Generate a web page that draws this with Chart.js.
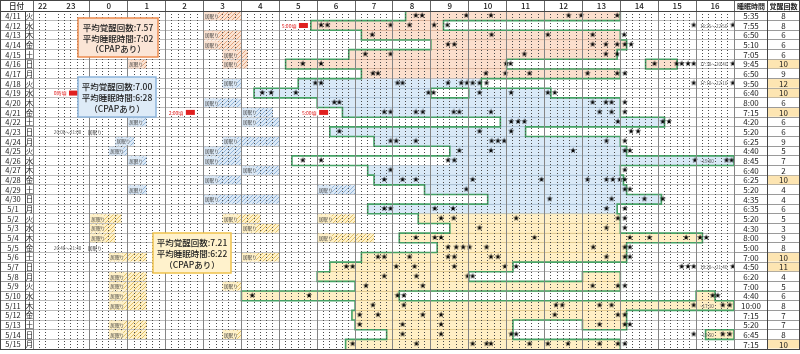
<!DOCTYPE html>
<html>
<head>
<meta charset="utf-8">
<script src="https://cdn.jsdelivr.net/npm/chart.js@4.4.0/dist/chart.umd.min.js"></script>
<style>
  html, body { margin: 0; padding: 0; background: #fff; }
</style>
</head>
<body>
<canvas id="sleepChart" width="800" height="354"></canvas>
<script>
// rows
const dates = ['4/11','4/12','4/13','4/14','4/15','4/16','4/17','4/18','4/19','4/20','4/21','4/22','4/23','4/24','4/25','4/26','4/27','4/28','4/29','4/30',
  '5/1','5/2','5/3','5/4','5/5','5/6','5/7','5/8','5/9','5/10','5/11','5/12','5/13','5/14','5/15'];
const weekdays = ['火','水','木','金','土','日','月','火','水','木','金','土','日','月','火','水','木','金','土','日',
  '月','火','水','木','金','土','日','月','火','水','木','金','土','日','月'];
const hourLabels = [22, 23, 0, 1, 2, 3, 4, 5, 6, 7, 8, 9, 10, 11, 12, 13, 14, 15, 16];
const sleepTimes = ['5:35','7:55','6:50','5:10','7:05','9:45','6:50','9:50','6:40','8:00','7:15','4:20','5:20','6:25','4:40','8:45','6:40','6:25','5:20','4:35',
  '6:35','5:20','4:30','8:00','5:00','7:00','4:50','6:20','7:00','4:40','10:00','7:15','5:20','6:45','7:15'];
const wakeCounts = [8,8,6,6,6,10,9,12,10,6,10,6,6,9,5,7,2,10,4,4,6,5,3,9,8,10,11,4,5,6,8,7,7,8,10];
const periodFirstRow = [0, 7, 21];   // 4/11, 4/18, 5/2
const avgWake = ['7.57', '7.00', '7.21'];
const avgSleep = ['7:02', '6:28', '6:22'];

// minutes from 0:00 (negative = previous evening)
const sleepSegs = [
  ['4/11',500,840],['4/12',350,560],['4/13',430,840],['4/14',540,850],['4/15',410,835],
  ['4/16',310,660],['4/16',880,930],['4/17',430,840],['4/18',330,620],['4/19',260,540],['4/19',600,730],
  ['4/20',360,840],['4/21',400,840],['4/22',650,910],['4/23',380,690],['4/24',450,840],['4/25',570,850],
  ['4/26',570,1020],['4/27',440,840],['4/28',450,845],['4/29',530,850],['4/30',630,905],['5/1',440,835],
  ['5/2',520,840],['5/3',570,840],['5/4',490,970],['5/5',550,850],['5/6',430,850],['5/7',380,670],
  ['5/8',360,600],['5/8',780,840],['5/9',420,840],['5/10',240,490],['5/10',960,990],['5/11',420,1020],
  ['5/12',415,850],['5/13',420,670],['5/13',780,850],['5/14',470,670],['5/14',975,1020],['5/15',405,840]
];
const bedOnlySegs = [['4/26',320,570]];

const napSegs = [
  ['4/11',180,240],['4/13',180,240],['4/14',180,240],['4/15',210,250],['4/16',60,90],['4/16',210,250],
  ['4/18',210,240],['4/20',180,240],['4/21',240,290],['4/22',60,90],['4/22',240,300],['4/24',40,70],['4/24',210,300],
  ['4/25',30,60],['4/25',180,240],['4/26',60,90],['4/26',180,240],['4/27',240,300],['4/28',180,240],
  ['4/29',60,90],['4/29',360,420],['4/30',180,300],['5/2',0,50],['5/2',210,270],['5/2',360,420],
  ['5/3',0,40],['5/3',240,300],['5/4',0,40],['5/4',360,450],['5/6',30,90],['5/6',240,300],['5/8',30,90],
  ['5/9',30,90],['5/9',210,240],['5/10',30,90],['5/11',30,90],['5/13',30,90],['5/14',30,90],['5/14',210,240]
];

const wakeMinutes = [
  [516,526,596,635,758,778,835],
  [366,376,476,506,545,566,956,1018],
  [447,636,725,796,846],
  [567,577,796,817,835,847,857],
  [436,476,688,817,835],
  [337,366,659,666,894,929,937,947,956,1018],
  [448,456,627,658,696,788,835,847],
  [357,366,487,495,567,588,597,606,617,628,956,1018],
  [273,287,326,536,544,617,667,725,736],
  [387,395,796,817,826,847],
  [466,476,516,527,576,585,635,807,826,847],
  [667,678,688,836,907,917],
  [395,617,667,857,868],
  [476,485,516,636,646,656,818,847],
  [585,635,765,847,855],
  [337,366,567,577,958,1008,1016],
  [476,847],
  [466,495,516,606,715,788,818,828,839,847],
  [596,847,855],
  [728,826,878,907],
  [466,476,546,575,818,847],
  [556,576,675,836,847],
  [617,818,847],
  [516,546,556,704,855,886,944,966,976],
  [567,580,591,601,628,797,847,855],
  [456,466,506,567,577,635,646,818,847,855],
  [406,416,485,514,577,657,675,937,947,956,1018],
  [466,517,598,606],
  [437,527,796,836,847],
  [257,347,487,497,986,994],
  [448,497,738,748,807,826,956,1002,1013],
  [427,456,527,556,736,836,847],
  [427,495,556,807,847,855],
  [495,556,667,675,956,1002,1013],
  [416,517,606,628,635,696,725,757,807,836,847]
];

const notes = [
  ['4/12', 303, '5:00頃', 'alert'],
  ['4/12', 966, '16:25～22:50', 'time'],
  ['4/16', 966, '17:30～20:40', 'time'],
  ['4/18', 966, '17:10～22:10', 'time'],
  ['4/19', -58, '0時頃', 'alert'],
  ['4/21', 124, '2:00頃', 'alert'],
  ['4/21', 335, '5:00頃', 'alert'],
  ['4/23', -57, '20:00～21:00', 'time'],
  ['4/23', -3, '居眠り', 'nap'],
  ['4/26', 966, '~19:00', 'time'],
  ['5/5', -57, '20:40～21:40', 'time'],
  ['5/5', -3, '居眠り', 'nap'],
  ['5/7', 966, '19:20～21:40', 'time'],
  ['5/11', 966, '~17:10', 'time'],
  ['5/14', 966, '~19:50', 'time']
];

const FONT = '"Noto Sans CJK JP", "Noto Sans", sans-serif';
const shade = ['rgba(244,176,130,0.40)', 'rgba(160,200,235,0.40)', 'rgba(255,215,110,0.40)'];
const light = ['#fbe3d3', '#dce9f6', '#fff1c9'];
const green = '#46a266';

function periodOf(r) {
  let p = 0;
  periodFirstRow.forEach((first, i) => { if (r >= first) p = i; });
  return p;
}

function hatch(bg, fg) {
  const cv = document.createElement('canvas');
  cv.width = 4; cv.height = 4;
  const g = cv.getContext('2d');
  g.fillStyle = bg; g.fillRect(0, 0, 4, 4);
  g.fillStyle = fg;
  g.fillRect(0, 3, 1, 1); g.fillRect(1, 2, 1, 1); g.fillRect(2, 1, 1, 1); g.fillRect(3, 0, 1, 1);
  return g.createPattern(cv, 'repeat');
}
const napFill = [hatch('#fbe3d3', '#e3a57e'), hatch('#dce9f6', '#93b6da'), hatch('#fff1c9', '#e0c168')];

function starImage() {
  const cv = document.createElement('canvas');
  cv.width = 8; cv.height = 8;
  const g = cv.getContext('2d');
  g.fillStyle = '#000';
  g.font = '8px "DejaVu Sans"';
  g.textAlign = 'center';
  g.textBaseline = 'middle';
  g.fillText('★', 4, 4.3);
  return cv;
}

// green outline of time in bed: vertical edges plus row boundaries where coverage differs
function mergeSegs(list) {
  list.sort((a, b) => a[0] - b[0]);
  const out = [];
  list.forEach(([s, e]) => {
    const last = out[out.length - 1];
    if (last && s <= last[1]) last[1] = Math.max(last[1], e);
    else out.push([s, e]);
  });
  return out;
}
const cover = dates.map(d => mergeSegs(sleepSegs.concat(bedOnlySegs).filter(g => g[0] === d).map(g => [g[1], g[2]])));
const inside = (list, v) => list.some(([s, e]) => v > s && v < e);
function xorSegs(a, b) {
  const pts = [...new Set(a.flat().concat(b.flat()))].sort((p, q) => p - q);
  const out = [];
  for (let i = 0; i < pts.length - 1; i++) {
    const mid = (pts[i] + pts[i + 1]) / 2;
    if (inside(a, mid) !== inside(b, mid)) {
      const last = out[out.length - 1];
      if (last && last[1] === pts[i]) last[1] = pts[i + 1];
      else out.push([pts[i], pts[i + 1]]);
    }
  }
  return out;
}
const outline = [];
cover.forEach((segs, r) => segs.forEach(([s, e]) => {
  outline.push({x: s, y: r - 0.5}, {x: s, y: r + 0.5}, {x: null, y: null});
  outline.push({x: e, y: r - 0.5}, {x: e, y: r + 0.5}, {x: null, y: null});
}));
for (let b = 1; b < dates.length; b++) {
  xorSegs(cover[b - 1], cover[b]).forEach(([s, e]) => {
    outline.push({x: s, y: b - 0.5}, {x: e, y: b - 0.5}, {x: null, y: null});
  });
}

const marks = [];
wakeMinutes.forEach((list, r) => list.forEach(m => marks.push({x: m, y: r})));

const tablePlugin = {
  id: 'table',
  beforeDraw(chart) {
    const c = chart.ctx;
    c.save();
    c.fillStyle = '#fff';
    c.fillRect(0, 0, chart.width, chart.height);
    c.restore();
  },
  afterDraw(chart) {
    const c = chart.ctx;
    const x = chart.scales.x, yl = chart.scales.yl, area = chart.chartArea;
    const top = r => yl.getPixelForValue(r - 0.5);
    const mid = r => yl.getPixelForValue(r);
    c.save();
    c.textBaseline = 'middle';

    // labels on naps
    napSegs.forEach(([d, s]) => {
      const r = dates.indexOf(d);
      const px = x.getPixelForValue(s);
      c.fillStyle = light[periodOf(r)];
      c.fillRect(px + 0.5, top(r) + 1, 14, top(r + 1) - top(r) - 2);
      c.fillStyle = '#333';
      c.font = '4.6px ' + FONT;
      c.textAlign = 'left';
      c.fillText('居眠り', px + 1.5, mid(r) + 0.3);
    });

    // notes
    notes.forEach(([d, m, text, kind]) => {
      const r = dates.indexOf(d);
      const px = x.getPixelForValue(m);
      c.textAlign = 'left';
      if (kind === 'alert') {
        c.font = '5px ' + FONT;
        const w = c.measureText(text).width;
        c.fillStyle = '#fff';
        c.fillRect(px, top(r) + 1.5, w + 13, 6.5);
        c.fillStyle = '#e02020';
        c.fillText(text, px + 0.5, mid(r) + 0.3);
        c.fillRect(px + w + 3, mid(r) - 2.5, 9, 5);
      } else if (kind === 'time') {
        c.font = '4.6px ' + FONT;
        c.fillStyle = '#555';
        c.fillText(text, px, mid(r) + 0.3);
      } else {
        c.font = '4.6px ' + FONT;
        c.fillStyle = '#333';
        c.fillText(text, px, mid(r) + 0.3);
      }
    });

    // header
    c.fillStyle = '#222';
    c.textAlign = 'center';
    c.font = '500 8px ' + FONT;
    hourLabels.forEach(h => {
      const start = h === 22 ? -90 : (h > 16 ? (h - 24) * 60 : h * 60);
      const end = h === 22 ? -60 : start + 60;
      c.fillText(String(h), (x.getPixelForValue(start) + x.getPixelForValue(end)) / 2, 6);
    });
    c.font = '500 7.5px ' + FONT;
    c.fillText('日付', 16.5, 6);
    c.font = 'bold 7px ' + FONT;
    c.fillText('睡眠時間', 751, 6);
    c.fillText('覚醒回数', 783.5, 6);

    // left and right columns
    dates.forEach((d, r) => {
      if (wakeCounts[r] >= 10) {
        c.fillStyle = '#fde5b2';
        c.fillRect(768, top(r) + 0.5, 31, top(r + 1) - top(r) - 1);
      }
      c.fillStyle = '#222';
      c.font = '7.5px ' + FONT;
      c.fillText(d, 13, mid(r) + 0.3);
      c.fillText(weekdays[r], 29.5, mid(r) + 0.3);
      c.font = '8px ' + FONT;
      c.fillText(sleepTimes[r], 751, mid(r) + 0.3);
      c.fillText(String(wakeCounts[r]), 783.5, mid(r) + 0.3);
    });

    // frame lines
    c.strokeStyle = '#444';
    c.lineWidth = 1;
    c.beginPath();
    c.moveTo(0, 0.5); c.lineTo(800, 0.5);
    c.moveTo(0, area.bottom + 0.5); c.lineTo(800, area.bottom + 0.5);
    c.moveTo(0.5, 0); c.lineTo(0.5, area.bottom);
    c.moveTo(799.5, 0); c.lineTo(799.5, area.bottom);
    c.moveTo(25.5, area.top); c.lineTo(25.5, area.bottom);
    c.moveTo(767.5, 0); c.lineTo(767.5, area.bottom);
    c.moveTo(0, area.top + 0.5); c.lineTo(800, area.top + 0.5);
    c.stroke();

    // average boxes
    const boxes = [
      {x: 78, y: 18, w: 80, h: 39, bg: '#fbe5d6', line: '#ec8a4e'},
      {x: 78, y: 77, w: 78, h: 40, bg: '#deebf7', line: '#8db5dc'},
      {x: 153, y: 233, w: 78, h: 40, bg: '#fff2cc', line: '#efc24c'}
    ];
    boxes.forEach((b, i) => {
      c.fillStyle = b.bg;
      c.fillRect(b.x, b.y, b.w, b.h);
      c.strokeStyle = b.line;
      c.lineWidth = 1.5;
      c.strokeRect(b.x, b.y, b.w, b.h);
      c.fillStyle = '#222';
      c.textAlign = 'center';
      c.font = '500 8.5px ' + FONT;
      const cx = b.x + b.w / 2;
      c.fillText('平均覚醒回数:' + avgWake[i], cx, b.y + b.h * 0.25);
      c.fillText('平均睡眠時間:' + avgSleep[i], cx, b.y + b.h * 0.52);
      c.fillText('（CPAPあり）', cx, b.y + b.h * 0.79);
    });
    c.restore();
  }
};

new Chart(document.getElementById('sleepChart'), {
  type: 'bar',
  data: {
    datasets: [
      {
        type: 'bar',
        label: '睡眠',
        indexAxis: 'y',
        xAxisID: 'x',
        yAxisID: 'y',
        grouped: false,
        barPercentage: 1,
        categoryPercentage: 1,
        borderWidth: 0,
        order: 4,
        data: sleepSegs.map(([d, s, e]) => ({y: d, x: [s, e]})),
        backgroundColor: ctx => ctx.raw ? shade[periodOf(dates.indexOf(ctx.raw.y))] : 'transparent'
      },
      {
        type: 'bar',
        label: '居眠り',
        indexAxis: 'y',
        xAxisID: 'x',
        yAxisID: 'y',
        grouped: false,
        barPercentage: 0.9,
        categoryPercentage: 1,
        borderWidth: 0,
        order: 3,
        data: napSegs.map(([d, s, e]) => ({y: d, x: [s, e]})),
        backgroundColor: ctx => ctx.raw ? napFill[periodOf(dates.indexOf(ctx.raw.y))] : 'transparent'
      },
      {
        type: 'line',
        label: '就床',
        indexAxis: 'x',
        xAxisID: 'x',
        yAxisID: 'yl',
        data: outline,
        borderColor: green,
        borderWidth: 1.6,
        borderCapStyle: 'square',
        pointRadius: 0,
        spanGaps: false,
        tension: 0,
        fill: false,
        order: 2
      },
      {
        type: 'scatter',
        label: '覚醒',
        indexAxis: 'x',
        xAxisID: 'x',
        yAxisID: 'yl',
        data: marks,
        pointStyle: starImage(),
        pointRadius: 3,
        order: 1
      }
    ]
  },
  options: {
    responsive: false,
    animation: false,
    indexAxis: 'y',
    layout: { padding: { left: 0, right: 0, top: 0, bottom: 3 } },
    plugins: { legend: { display: false }, tooltip: { enabled: false } },
    scales: {
      x2: {
        axis: 'x', type: 'linear', position: 'top', min: -90, max: 1020,
        offset: false,
        ticks: { display: false, stepSize: 10, autoSkip: false },
        grid: {
          z: 1, drawTicks: false, offset: false, lineWidth: 1,
          color: ctx => (ctx.tick && ctx.tick.value % 60 !== 0) ? '#4a4a4a' : 'transparent'
        },
        border: { display: false, dash: [1, 2] },
        afterFit: s => { s.height = 0; }
      },
      x: {
        axis: 'x', type: 'linear', position: 'top', min: -90, max: 1020,
        offset: false,
        ticks: { display: false, stepSize: 60, autoSkip: false },
        grid: { z: 1, drawTicks: true, tickLength: 11, offset: false, color: '#858585', tickColor: '#666', lineWidth: 1 },
        border: { display: true, color: '#444' },
        afterFit: s => { s.height = 11; }
      },
      y: {
        axis: 'y', type: 'category', position: 'left', labels: dates,
        offset: true,
        ticks: { display: false },
        grid: { offset: true, drawTicks: true, tickLength: 33, color: '#bdbdbd', tickColor: '#9a9a9a', lineWidth: 1 },
        border: { display: true, color: '#444' },
        afterFit: s => { s.width = 33; }
      },
      y2: {
        axis: 'y', type: 'category', position: 'right', labels: dates,
        offset: true,
        ticks: { display: false },
        grid: { offset: true, drawOnChartArea: false, drawTicks: true, tickLength: 66, tickColor: '#9a9a9a', lineWidth: 1 },
        border: { display: true, color: '#444' },
        afterFit: s => { s.width = 66; }
      },
      yl: {
        axis: 'y', type: 'linear', display: false, reverse: true, min: -0.5, max: 34.5,
        offset: false, grid: { offset: false }
      }
    }
  },
  plugins: [tablePlugin]
});
</script>
</body>
</html>
